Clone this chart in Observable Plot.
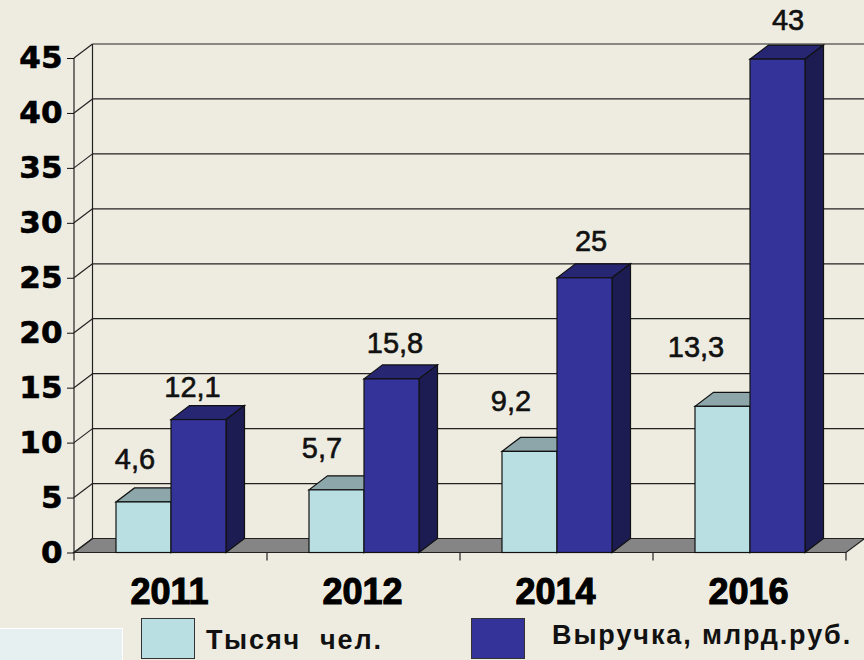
<!DOCTYPE html>
<html><head><meta charset="utf-8">
<script src="https://cdn.jsdelivr.net/npm/d3@7"></script>
<script src="https://cdn.jsdelivr.net/npm/@observablehq/plot@0.6"></script>
<style>
html,body{margin:0;padding:0;background:#EEECE1;overflow:hidden}
#chart{width:864px;height:660px;position:relative;font-family:"Liberation Sans",Arial,sans-serif}
#chart svg{display:block;background:transparent}
g[aria-label="y-axis tick label"] text{stroke:#000;stroke-width:.6px}
g[aria-label="fx-axis tick label"] text{stroke:#000;stroke-width:1.1px}
#legend{position:absolute;left:0;top:614px;width:864px;height:46px}
.corner{position:absolute;left:0;top:14px;width:122px;height:31px;background:#E6F0F0;border-top:1.5px solid #fff;border-right:1.5px solid #fff}
.swatch{position:absolute;top:4px;width:52px;height:39px;border:1.5px solid #333;box-sizing:content-box}
.name{position:absolute;font-weight:bold;font-size:27px;letter-spacing:1.9px;line-height:28px;color:#111;white-space:pre}
</style></head><body>
<div id="chart"><div id="legend"></div></div>
<script>
const years = ["2011", "2012", "2014", "2016"];
const seriesNames = ["Тысяч  чел.", "Выручка, млрд.руб."];
const staffValues = [4.6, 5.7, 9.2, 13.3];
const revenueValues = [12.1, 15.8, 25, 44.9];   // drawn height
const staffLabels = ["4,6", "5,7", "9,2", "13,3"];
const revenueLabels = ["12,1", "15,8", "25", "43"];
const yTicks = [0, 5, 10, 15, 20, 25, 30, 35, 40, 45];

const frontColors = ["#B9DFE3", "#333399"];
const topColors = ["#8CA6A9", "#262673"];
const sideColors = ["#6F8688", "#1C1C52"];
const bg = "#EEECE1", ink = "#111";
const depthX = 18.5, depthY = 14;

const rows = years.flatMap((year, i) => [
  {year, series: seriesNames[0], value: staffValues[i], label: staffLabels[i], s: 0},
  {year, series: seriesNames[1], value: revenueValues[i], label: revenueLabels[i], s: 1}
]);
// label nudges from the bar's top-centre, in the same order as rows
const nudges = [[-9,-43],[-6.5,-32],[-15,-42],[3,-36],[-19,-50],[6,-37],[-27,-59],[10,-39]];

function wall(I, scales, values, dim) {
  const x0 = dim.marginLeft, x1 = dim.width - dim.marginRight, y = scales.y;
  const g = d3.create("svg:g").attr("fill", "none").attr("stroke", "#222").attr("stroke-width", 1.2);
  const yb = y(0), yt = y(45);
  g.append("polygon").attr("fill", "#858585")
    .attr("points", [[x0,yb],[x1,yb],[x1+depthX,yb-depthY],[x0+depthX,yb-depthY]].join(" "));
  for (const t of yTicks) {
    g.append("line").attr("x1", x0).attr("y1", y(t)).attr("x2", x0+depthX).attr("y2", y(t)-depthY);
    g.append("line").attr("x1", x0+depthX).attr("y1", y(t)-depthY).attr("x2", x1+depthX).attr("y2", y(t)-depthY);
  }
  g.append("line").attr("x1", x0+depthX).attr("y1", yt-depthY).attr("x2", x0+depthX).attr("y2", yb-depthY);
  g.append("line").attr("x1", x0).attr("y1", yt).attr("x2", x0).attr("y2", yb+8);
  g.append("line").attr("x1", x0).attr("y1", yb).attr("x2", x1).attr("y2", yb);
  d3.range(1, years.length + 1).forEach(k => {
    const xk = x0 + k * (x1 - x0) / years.length;
    g.append("line").attr("x1", xk).attr("y1", yb).attr("x2", xk).attr("y2", yb+8);
  });
  return g.node();
}

function box3d(I, scales, values, dim, ctx, next) {
  const g = next(I, scales, values, dim, ctx);
  d3.select(g).selectAll("rect").each(function(i) {
    const r = this, s = rows[i].s;
    const x = +r.getAttribute("x"), yy = +r.getAttribute("y");
    const w = +r.getAttribute("width"), h = +r.getAttribute("height");
    const add = (pts, fill) => {
      const p = document.createElementNS("http://www.w3.org/2000/svg", "polygon");
      p.setAttribute("points", pts.join(" "));
      p.setAttribute("fill", fill);
      p.setAttribute("stroke", ink);
      r.parentNode.insertBefore(p, r);
    };
    add([[x,yy],[x+w,yy],[x+w+depthX,yy-depthY],[x+depthX,yy-depthY]], topColors[s]);
    add([[x+w,yy],[x+w,yy+h],[x+w+depthX,yy+h-depthY],[x+w+depthX,yy-depthY]], sideColors[s]);
  });
  return g;
}

const labelOptions = i => ({
  fx: "year", x: "series", y: "value", text: "label",
  dx: nudges[i][0], dy: nudges[i][1],
  fontSize: 29, fill: ink, textAnchor: "middle", lineAnchor: "middle"
});
const labelMarks = rows.flatMap((row, i) => [
  Plot.text([row], {...labelOptions(i), stroke: bg, strokeWidth: 5, fill: bg}),
  Plot.text([row], {...labelOptions(i), stroke: ink, strokeWidth: 0.6})
]);

const plot = Plot.plot({
  width: 864, height: 614,
  marginLeft: 72, marginRight: 17, marginTop: 58, marginBottom: 61.5,
  style: {background: "transparent", fontFamily: '"Liberation Sans", Arial, sans-serif', overflow: "visible"},
  fx: {domain: years, padding: 0, axis: null, label: null},
  x: {domain: seriesNames, paddingInner: 0, paddingOuter: 0.748, axis: null},
  y: {domain: [0, 45], label: null, axis: null},
  color: {domain: seriesNames, range: frontColors},
  marks: [
    Plot.frame({facet: "super", stroke: "none", render: wall}),
    Plot.barY(rows, {fx: "year", x: "series", y: "value", fill: "series", stroke: ink, strokeWidth: 1.2, render: box3d}),
    ...labelMarks,
    Plot.axisY({ticks: yTicks, tickSize: 7, tickPadding: 5, fontSize: 31, fontWeight: "bold", fontFamily: '"DejaVu Sans"', label: null, stroke: ink}),
    Plot.axisFx({anchor: "bottom", tickSize: 0, tickPadding: 25, dx: -1.5, fontSize: 36, fontWeight: "bold", label: null})
  ]
});
document.getElementById("chart").prepend(plot);

const legend = document.getElementById("legend");
legend.innerHTML = `<div class="corner"></div>`;
const legendAt = [[141, 206, 12], [471, 552, 7]];
seriesNames.forEach((name, i) => {
  const sw = document.createElement("div");
  sw.className = "swatch";
  sw.style.left = legendAt[i][0] + "px";
  sw.style.background = frontColors[i];
  const tx = document.createElement("div");
  tx.className = "name";
  tx.style.left = legendAt[i][1] + "px";
  tx.style.top = legendAt[i][2] + "px";
  tx.textContent = name;
  legend.append(sw, tx);
});
</script>
</body></html>
